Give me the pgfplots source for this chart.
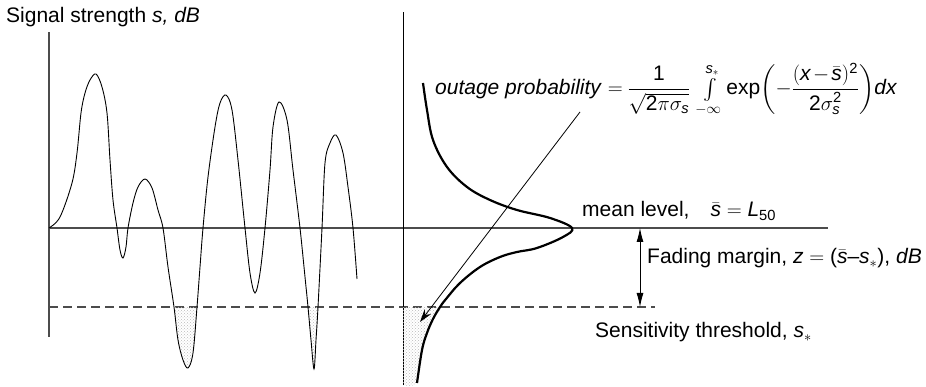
\documentclass[border=0pt]{standalone}
\usepackage{amsmath}
\usepackage{fontspec}
\setmainfont{Liberation Sans}
\usepackage{pgfplots}
\pgfplotsset{compat=1.18}
\usetikzlibrary{patterns,arrows.meta}

% italic and upright sans symbols inside formulas
\newcommand{\iv}[1]{\text{\itshape #1}}
\newcommand{\uv}[1]{\text{#1}}

\begin{document}
\fontsize{21}{25}\selectfont
\begin{tikzpicture}
\tikzset{lbl/.style={inner sep=0pt, anchor=base west}}
\begin{axis}[
  scale only axis, width=926pt, height=387pt,
  xmin=0, xmax=926, ymin=0, ymax=387,
  hide axis, clip=false,
]
% ---- levels: mean (y=159) and sensitivity threshold (y=80)
\addplot[gray!60!black, line width=1.2pt] coordinates {(49,159) (828,159)};
\addplot[gray!60!black, line width=1.2pt, dash pattern=on 9pt off 5pt] coordinates {(49,80) (655,80)};

% ---- vertical axes
\addplot[gray!60!black, line width=1.3pt] coordinates {(49,50) (49,355)};
\addplot[black, line width=1.0pt] coordinates {(403,2) (403,375)};

% ---- stippled parts of the signal below the threshold
\addplot[draw=none, pattern=crosshatch dots, pattern color=gray!55, smooth, tension=0.6]
  coordinates {(174,80) (178,47) (183,27) (188,19) (193,34) (197,80)};
\addplot[draw=none, pattern=crosshatch dots, pattern color=gray!55, smooth, tension=0.6]
  coordinates {(308,80) (311,47) (314,18) (316,47) (318,80)};

% ---- received signal strength
\addplot[black, line width=0.9pt, smooth, tension=0.55] coordinates {
  (49,159) (60,170) (72,204) (77,234) (81,274) (85,294) (90,307) (96,313)
  (102,300) (107,274) (110,227) (113,187) (117,159) (120,137) (123,129)
  (126,140) (128,159) (133,184) (138,200) (145,208) (152,199) (158,177)
  (163,159) (168,120) (174,80) (178,47) (183,27) (188,19) (193,34) (197,80)
  (200,120) (203,159) (208,210) (215,260) (220,284) (226,292) (232,277)
  (238,227) (245,159) (250,114) (255,94) (260,114) (265,159) (270,217)
  (273,260) (279,285) (287,267) (293,217) (300,159) (305,110) (308,80)
  (311,47) (314,18) (316,47) (318,80) (322,159) (325,224) (330,244)
  (336,252) (343,234) (348,200) (353,159) (357,108)};

% ---- stippled tail of the distribution (outage region)
\addplot[draw=none, pattern=crosshatch dots, pattern color=gray!55, smooth]
  coordinates {(403,80) (440,80) (433,68) (427,54) (422,37) (417,4) (403,2)};

% ---- distribution of the signal level
\addplot[black, line width=2.2pt, smooth, tension=0.6] coordinates {
  (423,304) (427,277) (433,247) (447,220) (467,200) (490,187) (517,177)
  (550,169) (572,159) (563,150) (537,139) (517,135) (500,130) (480,120)
  (460,104) (446,88) (440,80) (433,68) (427,54) (422,37) (417,4)};

% ---- arrows
\draw[black, line width=0.8pt, -{Stealth[length=13pt, width=8pt]}]
  (axis cs:580,275) -- (axis cs:420,65);
\draw[black, line width=0.9pt, {Latex[length=14pt, width=7pt]}-{Latex[length=14pt, width=7pt]}]
  (axis cs:640,159) -- (axis cs:640,80);

% ---- labels
\node[lbl] at (axis cs:6,364) {Signal strength \textit{s, dB}};
\node[lbl] at (axis cs:435,292) {\textit{outage probability} $\medmuskip=2mu\thickmuskip=4mu =
  \displaystyle\frac{\uv{1}}{\sqrt{\uv{2}\pi\sigma_{\iv{s}}}}\,
  \textstyle\int\limits_{-\infty}^{\iv{s}_{\ast}}
  \displaystyle\uv{exp}\!\left(-\frac{(\iv{x}-\bar{\iv{s}})^{\uv{2}}}{\uv{2}\sigma_{\iv{s}}^{\uv{2}}}\right)\!\iv{dx}$};
\node[lbl] at (axis cs:582,170) {mean level,\quad $\bar{\iv{s}} = \iv{L}_{\uv{50}}$};
\node[lbl] at (axis cs:647,123) {Fading margin, $\iv{z} = \uv{(}\bar{\iv{s}}\uv{–}\iv{s}_{\ast}\uv{)}$, \textit{dB}};
\node[lbl] at (axis cs:595,49) {Sensitivity threshold, $\iv{s}_{\ast}$};
\end{axis}
\pgfresetboundingbox
\path (current axis.south west) rectangle (current axis.north east);
\end{tikzpicture}
\end{document}
